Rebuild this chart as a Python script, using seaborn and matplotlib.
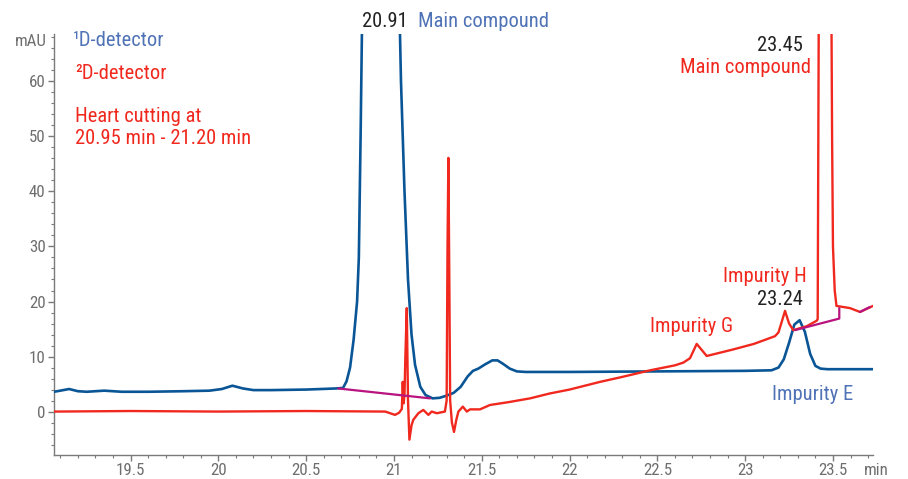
import matplotlib
matplotlib.use("Agg")
import matplotlib.pyplot as plt
from matplotlib import font_manager as fm
import seaborn as sns
import pandas as pd
from matplotlib.ticker import MultipleLocator, FixedLocator

# ---- data ----
t_blue = [19.064, 19.10, 19.15, 19.20, 19.25, 19.35, 19.45, 19.60, 19.80, 19.95,
          20.02, 20.08, 20.14, 20.20, 20.30, 20.50, 20.67, 20.71, 20.73, 20.75,
          20.77, 20.79, 20.80, 20.81, 20.83, 20.91, 21.00, 21.03, 21.04, 21.06,
          21.08, 21.10, 21.12, 21.15, 21.18, 21.22, 21.26, 21.30, 21.34, 21.38,
          21.42, 21.45, 21.48, 21.52, 21.56, 21.59, 21.62, 21.66, 21.70, 21.75,
          22.00, 22.50, 23.00, 23.15, 23.19, 23.22, 23.25, 23.28, 23.31, 23.34,
          23.37, 23.40, 23.43, 23.47, 23.55, 23.728]
v_blue = [3.6, 3.8, 4.1, 3.7, 3.6, 3.8, 3.6, 3.6, 3.7, 3.8,
          4.1, 4.7, 4.2, 3.9, 3.9, 4.0, 4.2, 4.3, 5.5, 8.0,
          13.0, 20.0, 28.0, 50.0, 100.0, 260.0, 110.0, 75.0, 60.0, 40.0,
          24.0, 14.0, 8.5, 4.5, 3.0, 2.4, 2.5, 2.9, 3.4, 4.5,
          6.4, 7.4, 7.8, 8.6, 9.3, 9.3, 8.7, 7.8, 7.3, 7.2,
          7.2, 7.3, 7.4, 7.5, 8.0, 9.5, 12.5, 15.8, 16.6, 14.5,
          10.5, 8.3, 7.8, 7.7, 7.7, 7.7]

t_red = [19.064, 19.50, 20.00, 20.50, 20.95, 21.006, 21.03, 21.045, 21.05, 21.055,
         21.06, 21.065, 21.073, 21.08, 21.088, 21.10, 21.11, 21.139, 21.167, 21.196,
         21.215, 21.244, 21.29, 21.30, 21.305, 21.31, 21.315, 21.32, 21.33, 21.342,
         21.355, 21.367, 21.392, 21.415, 21.433, 21.49, 21.547, 21.65, 21.775, 21.889,
         22.00, 22.174, 22.30, 22.459, 22.60, 22.648, 22.686, 22.705, 22.724, 22.75,
         22.781, 22.933, 23.05, 23.17, 23.19, 23.21, 23.227, 23.25, 23.274, 23.35,
         23.407, 23.413, 23.42, 23.45, 23.49, 23.495, 23.50, 23.51, 23.52, 23.597,
         23.654, 23.728]
v_red = [0.0, 0.1, 0.0, 0.1, 0.0, -0.6, -0.2, 0.5, 5.4, 1.5,
         3.0, 10.0, 18.8, 2.0, -5.1, -2.5, -1.5, -0.3, 0.3, -0.6,
         0.0, -0.3, 0.0, 2.0, 30.0, 46.1, 25.0, 2.0, -2.0, -3.7,
         -1.5, 0.0, 0.9, 0.0, 0.4, 0.4, 1.2, 1.7, 2.4, 3.3,
         4.0, 5.4, 6.3, 7.5, 8.4, 8.9, 9.7, 11.0, 12.3, 11.3,
         10.1, 11.3, 12.3, 13.7, 14.4, 16.5, 18.3, 16.0, 14.8, 15.5,
         16.5, 16.8, 80.0, 300.0, 80.0, 50.0, 30.0, 22.0, 19.2, 18.8,
         18.1, 19.2]

base1_t = [20.683, 21.206]
base1_v = [4.2, 2.4]
base2_t = [23.284, 23.536, 23.536]
base2_v = [14.8, 16.9, 18.8]
base3_t = [23.654, 23.71]
base3_v = [18.1, 19.0]

x_ticks = [19.5, 20, 20.5, 21, 21.5, 22, 22.5, 23, 23.5]
x_tick_labels = ["19.5", "20", "20.5", "21", "21.5", "22", "22.5", "23", "23.5"]
y_ticks = [0, 10, 20, 30, 40, 50, 60]

# ---- style ----
BLUE = "#0a5596"
RED = "#f0281e"
MAG = "#b8137f"
BLUE_TXT = "#4f73b6"
GRAY = "#6e6e6e"

sns.set_theme(style="white")

# choose a narrow sans font if one exists
names = {f.name for f in fm.fontManager.ttflist}
narrow = None
for cand in ["Liberation Sans Narrow", "Roboto Condensed", "Open Sans Condensed",
             "Noto Sans Condensed", "DejaVu Sans Condensed", "Noto Sans Display Condensed"]:
    if cand in names:
        narrow = cand
        break
stretch = "normal"
if narrow is None:
    for f in fm.fontManager.ttflist:
        st = str(f.stretch).lower()
        if ("condensed" in st or (isinstance(f.stretch, int) and f.stretch < 500)) \
                and f.style == "normal" and "Mono" not in f.name and "Serif" not in f.name:
            narrow = f.name
            stretch = f.stretch
            break
if narrow is None:
    narrow = "Liberation Sans"
plt.rcParams["font.family"] = [narrow, "DejaVu Sans"]
plt.rcParams["font.stretch"] = stretch

W, H = 908, 479
fig = plt.figure(figsize=(W / 100, H / 100), dpi=100)
ax = fig.add_axes([54 / W, 1 - 454.5 / H, (873 - 54) / W, (454.5 - 33.5) / H])

df_b = pd.DataFrame({"t": t_blue, "v": v_blue})
df_r = pd.DataFrame({"t": t_red, "v": v_red})
sns.lineplot(data=df_b, x="t", y="v", ax=ax, color=BLUE, lw=1.9, sort=False,
             estimator=None, zorder=3)
sns.lineplot(data=df_r, x="t", y="v", ax=ax, color=RED, lw=1.7, sort=False,
             estimator=None, zorder=4)
for bt, bv in [(base1_t, base1_v), (base2_t, base2_v), (base3_t, base3_v)]:
    sns.lineplot(x=bt, y=bv, ax=ax, color=MAG, lw=1.6, sort=False,
                 estimator=None, zorder=5)

ax.set_xlim(19.064, 23.728)
ax.set_ylim(-7.8, 68.7)
ax.set_xlabel("")
ax.set_ylabel("")

ax.xaxis.set_major_locator(FixedLocator(x_ticks))
ax.set_xticklabels(x_tick_labels)
ax.xaxis.set_minor_locator(MultipleLocator(0.1))
ax.yaxis.set_major_locator(FixedLocator(y_ticks))
ax.yaxis.set_minor_locator(MultipleLocator(2))

for s in ["top", "right"]:
    ax.spines[s].set_visible(False)
for s in ["left", "bottom"]:
    ax.spines[s].set_color("#7a7a7a")
    ax.spines[s].set_linewidth(1.0)

TS = 12.2
ax.tick_params(axis="both", which="major", direction="out", length=4, width=1,
               color="#7a7a7a", labelsize=TS, labelcolor=GRAY, pad=2)
ax.tick_params(axis="both", which="minor", direction="out", length=2.5, width=0.8,
               color="#7a7a7a")
ax.tick_params(axis="x", which="both", bottom=True)
ax.tick_params(axis="y", which="both", left=True)

FS = 14.8
fig.text(47 / W, 1 - 42 / H, "mAU", ha="right", va="center", fontsize=TS, color=GRAY)
fig.text(864 / W, 1 - 475 / H, "min", ha="left", va="baseline", fontsize=TS, color=GRAY)

kw = dict(fontsize=FS, va="baseline")
ax.text(19.173, 66.45, "\u00b9D-detector", color=BLUE_TXT, ha="left", **kw)
ax.text(19.184, 60.45, "\u00b2D-detector", color=RED, ha="left", **kw)
ax.text(19.184, 52.6, "Heart cutting at", color=RED, ha="left", **kw)
ax.text(19.184, 48.6, "20.95 min - 21.20 min", color=RED, ha="left", **kw)
ax.text(21.080, 69.9, "20.91", color="#222222", ha="right", **kw)
ax.text(21.137, 69.9, "Main compound", color=BLUE_TXT, ha="left", **kw)
ax.text(23.330, 65.6, "23.45", color="#222222", ha="right", **kw)
ax.text(23.375, 61.6, "Main compound", color=RED, ha="right", **kw)
ax.text(23.352, 23.5, "Impurity H", color=RED, ha="right", **kw)
ax.text(23.330, 19.36, "23.24", color="#222222", ha="right", **kw)
ax.text(22.931, 14.5, "Impurity G", color=RED, ha="right", **kw)
ax.text(23.153, 2.09, "Impurity E", color=BLUE_TXT, ha="left", **kw)

fig.savefig("out.png", dpi=100)
